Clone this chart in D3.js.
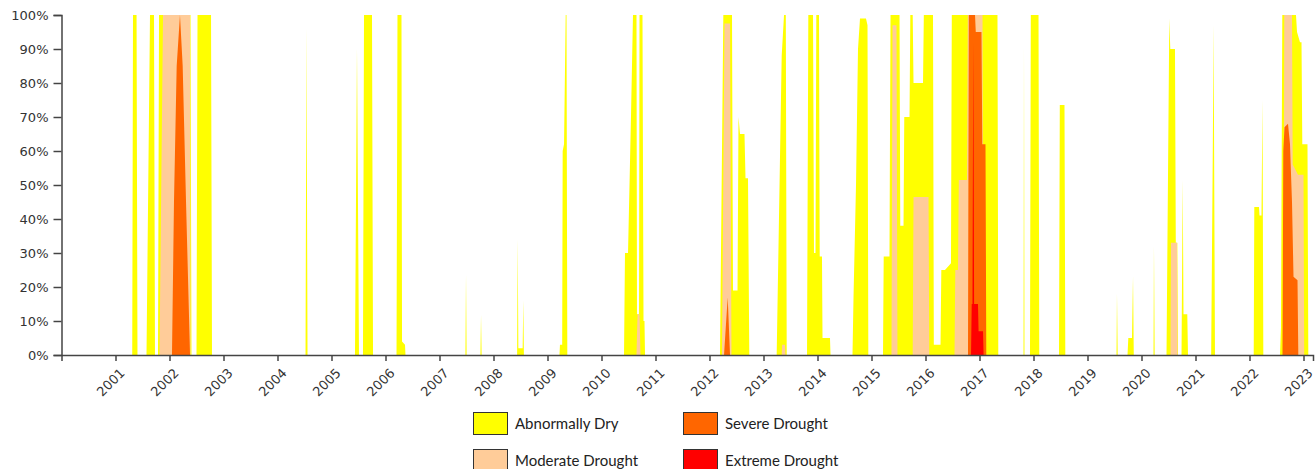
<!DOCTYPE html>
<html>
<head>
<meta charset="utf-8">
<script src="https://cdn.jsdelivr.net/npm/d3@7/dist/d3.min.js"></script>
<style>
  body { margin: 0; background: #fff; }
  .axis text { font-family: "DejaVu Sans", Verdana, sans-serif; font-size: 13px; fill: #333; }
  .axis path, .axis line { stroke: #444; stroke-width: 1.5; }
  .legend text { font-family: Lato, "Open Sans", sans-serif; font-size: 15px; fill: #222; }
</style>
</head>
<body>
<div id="chart"></div>
<script>
// decimal year, percent of area
const dryPoints = [
  [2001.310, 0], [2001.324, 100], [2001.390, 100], [2001.407, 0],
  [2001.574, 0], [2001.639, 100], [2001.713, 100], [2001.731, 0],
  [2001.787, 0], [2001.806, 100], [2002.389, 100], [2002.407, 0],
  [2002.500, 0], [2002.519, 100], [2002.769, 100], [2002.787, 0],
  [2004.519, 0], [2004.537, 96], [2004.556, 0],
  [2005.435, 0], [2005.472, 90], [2005.509, 0],
  [2005.583, 0], [2005.602, 100], [2005.750, 100], [2005.769, 0],
  [2006.204, 0], [2006.222, 100], [2006.296, 100], [2006.306, 4], [2006.361, 3], [2006.370, 0],
  [2007.480, 0], [2007.491, 23.5], [2007.502, 0],
  [2007.758, 0], [2007.769, 11.8], [2007.780, 0],
  [2008.437, 0], [2008.448, 34], [2008.460, 2], [2008.540, 2], [2008.552, 16], [2008.563, 0],
  [2009.222, 0], [2009.231, 3], [2009.272, 3], [2009.281, 60], [2009.306, 62], [2009.337, 100], [2009.352, 100], [2009.367, 0],
  [2010.417, 0], [2010.435, 30], [2010.491, 30], [2010.546, 70], [2010.583, 100], [2010.648, 100], [2010.657, 12],
  [2010.695, 12], [2010.704, 100], [2010.759, 100], [2010.778, 10], [2010.796, 10], [2010.806, 0],
  [2012.194, 0], [2012.256, 100], [2012.417, 100], [2012.435, 19], [2012.519, 19], [2012.537, 70], [2012.565, 65],
  [2012.648, 65], [2012.667, 52], [2012.713, 52], [2012.737, 0],
  [2013.244, 0], [2013.263, 18], [2013.337, 88], [2013.380, 100], [2013.413, 100], [2013.430, 0],
  [2013.806, 0], [2013.830, 100], [2013.917, 100], [2013.935, 30], [2013.963, 30], [2013.978, 100], [2014.028, 100],
  [2014.041, 29], [2014.083, 29], [2014.093, 5], [2014.231, 5], [2014.241, 0],
  [2014.648, 0], [2014.667, 17], [2014.713, 50], [2014.750, 90], [2014.787, 99], [2014.898, 99], [2014.926, 97], [2014.941, 0],
  [2015.213, 0], [2015.226, 29], [2015.333, 29], [2015.352, 100], [2015.519, 100], [2015.533, 38], [2015.593, 38],
  [2015.607, 70], [2015.704, 70], [2015.719, 100], [2015.763, 100], [2015.778, 80], [2015.954, 80], [2015.969, 100],
  [2016.139, 100], [2016.154, 3], [2016.278, 3], [2016.293, 25], [2016.361, 25], [2016.472, 27], [2016.487, 100],
  [2017.333, 100], [2017.348, 0],
  [2017.815, 0], [2017.824, 90.7], [2017.833, 0],
  [2017.935, 0], [2017.950, 100], [2018.093, 100], [2018.107, 0],
  [2018.472, 0], [2018.487, 73.5], [2018.574, 73.5], [2018.589, 0],
  [2019.537, 0], [2019.546, 18], [2019.559, 0],
  [2019.741, 0], [2019.756, 5], [2019.824, 5], [2019.843, 23], [2019.857, 0],
  [2020.222, 0], [2020.231, 32], [2020.244, 0],
  [2020.463, 0], [2020.515, 99], [2020.533, 90], [2020.620, 90], [2020.635, 33], [2020.663, 33], [2020.676, 0],
  [2020.741, 0], [2020.763, 51.5], [2020.778, 12], [2020.848, 12], [2020.861, 0],
  [2021.290, 0], [2021.320, 60], [2021.335, 97], [2021.361, 0],
  [2022.078, 0], [2022.089, 43.5], [2022.176, 43.5], [2022.185, 41], [2022.222, 41], [2022.241, 75], [2022.256, 0],
  [2022.565, 0], [2022.583, 8], [2022.607, 100], [2022.861, 100], [2022.880, 95], [2022.935, 92], [2022.963, 92],
  [2022.978, 62], [2023.074, 62], [2023.089, 0]
];

const moderatePoints = [
  [2001.815, 0], [2001.880, 100], [2002.380, 100], [2002.389, 0],
  [2010.648, 0], [2010.667, 12], [2010.704, 12], [2010.722, 0],
  [2012.231, 0], [2012.278, 97.5], [2012.380, 97.5], [2012.407, 0],
  [2013.337, 0], [2013.345, 3], [2013.398, 3], [2013.407, 0],
  [2015.370, 0], [2015.389, 97], [2015.463, 97], [2015.481, 0],
  [2015.763, 0], [2015.778, 46.5], [2016.056, 46.5], [2016.070, 0],
  [2016.537, 0], [2016.552, 25], [2016.602, 25], [2016.617, 51.5], [2016.769, 51.5], [2016.783, 100],
  [2017.056, 100], [2017.070, 0],
  [2020.537, 0], [2020.546, 33], [2020.657, 33], [2020.667, 0],
  [2022.630, 0], [2022.644, 100], [2022.787, 100], [2022.800, 56], [2022.898, 53], [2023.000, 53], [2023.013, 0]
];

const severePoints = [
  [2002.046, 0], [2002.083, 45], [2002.133, 85], [2002.194, 100], [2002.244, 85], [2002.306, 45], [2002.380, 0],
  [2012.269, 0], [2012.337, 17], [2012.380, 0],
  [2016.787, 0], [2016.802, 100], [2016.917, 100], [2016.931, 95], [2017.037, 95], [2017.052, 62], [2017.111, 62], [2017.126, 0],
  [2022.611, 0], [2022.626, 60], [2022.648, 67], [2022.713, 68], [2022.750, 62], [2022.787, 45], [2022.815, 23],
  [2022.889, 22], [2022.904, 0]
];

const extremePoints = [
  [2016.843, 0], [2016.856, 15], [2016.870, 15], [2016.885, 92], [2016.900, 15], [2016.972, 15],
  [2016.983, 7], [2017.065, 7], [2017.076, 0]
];

const yearTicks = d3.range(2001, 2024);
const pctTicks = d3.range(0, 101, 10);
const levelNames = ['Abnormally Dry', 'Moderate Drought', 'Severe Drought', 'Extreme Drought'];
const levelColors = ['#ffff00', '#ffcc99', '#ff6600', '#ff0000'];

const width = 1315, height = 469;
const margin = { top: 15, right: 2, bottom: 114, left: 61.5 };

const svg = d3.select('#chart')
  .append('svg')
  .attr('width', width)
  .attr('height', height);

const x = d3.scaleLinear()
  .domain([2000, 2000 + (width - margin.right - margin.left) / 54])
  .range([margin.left, width - margin.right]);

const y = d3.scaleLinear()
  .domain([0, 100])
  .range([height - margin.bottom, margin.top]);

const area = d3.area()
  .x(d => x(d[0]))
  .y0(y(0))
  .y1(d => y(d[1]));

// draw lightest first, worse categories on top
[dryPoints, moderatePoints, severePoints, extremePoints].forEach((pts, i) => {
  svg.append('path')
    .datum(pts)
    .attr('fill', levelColors[i])
    .attr('d', area);
});

// axes
svg.append('g')
  .attr('class', 'axis')
  .attr('transform', `translate(${margin.left},0)`)
  .call(d3.axisLeft(y).tickValues(pctTicks).tickFormat(d => d + '%').tickSize(8).tickPadding(5));

const xAxis = svg.append('g')
  .attr('class', 'axis')
  .attr('transform', `translate(0,${height - margin.bottom})`)
  .call(d3.axisBottom(x).tickValues(yearTicks).tickFormat(d3.format('d')).tickSize(6));

xAxis.selectAll('text')
  .attr('text-anchor', 'end')
  .attr('dx', '-0.5em')
  .attr('dy', '0.85em')
  .attr('transform', 'rotate(-45)');

// legend
const legend = svg.append('g').attr('class', 'legend');
const legendCols = [473.5, 683.5];
const legendRows = [412.5, 449.5];
levelNames.forEach((name, i) => {
  const col = Math.floor(i / 2), row = i % 2;
  const g = legend.append('g')
    .attr('transform', `translate(${legendCols[col]},${legendRows[row]})`);
  g.append('rect')
    .attr('width', 34)
    .attr('height', 22)
    .attr('fill', levelColors[i])
    .attr('stroke', '#333')
    .attr('stroke-width', 1);
  g.append('text')
    .attr('x', 41.5)
    .attr('y', 16.5)
    .text(name);
});
</script>
</body>
</html>
